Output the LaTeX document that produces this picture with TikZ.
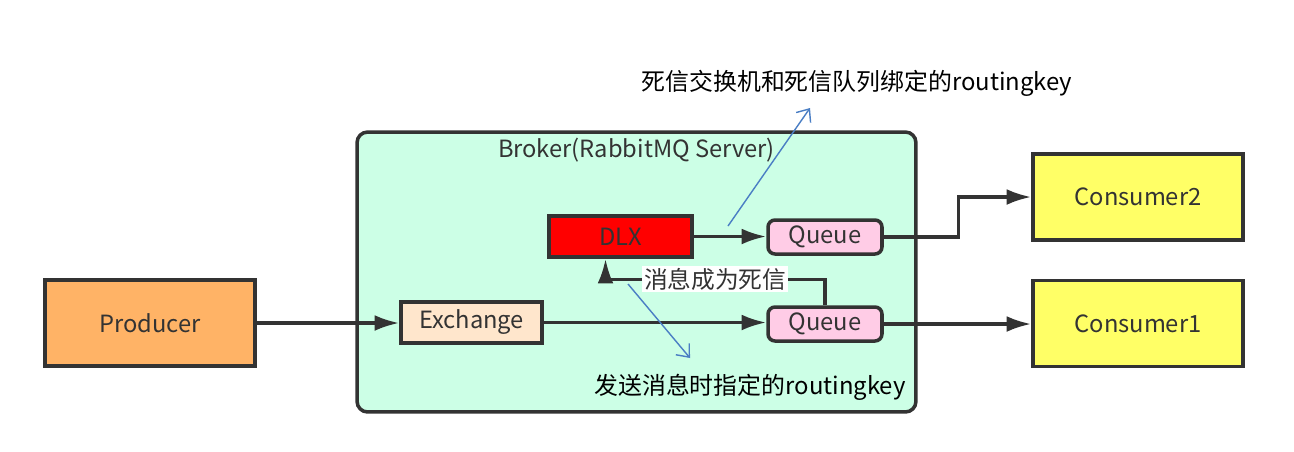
\documentclass[tikz,border=0pt]{standalone}
\usepackage{fontspec}
\setmainfont{Noto Sans CJK SC}
\usetikzlibrary{arrows.meta,positioning}
\definecolor{edge}{HTML}{333333}
\definecolor{brokerbg}{HTML}{CCFFE6}
\definecolor{prodbg}{HTML}{FFB366}
\definecolor{exchbg}{HTML}{FFE6CC}
\definecolor{queuebg}{HTML}{FFCCE6}
\definecolor{consbg}{HTML}{FFFF66}
\definecolor{keyblue}{HTML}{4A7EC4}
\begin{document}
\begin{tikzpicture}[x=0.02cm, y=-0.02cm,
    box/.style={draw=edge, line width=2pt, text=edge, font=\fontsize{13.5}{15}\selectfont, inner sep=0pt},
    bigbox/.style={box, minimum width=4.2cm, minimum height=1.72cm},
    qbox/.style={box, rounded corners=4pt, fill=queuebg, minimum width=2.28cm, minimum height=0.68cm},
    flow/.style={draw=edge, line width=1.9pt, -{Latex[length=14pt, width=9pt]}},
    keyline/.style={draw=keyblue, line width=0.8pt, -{Straight Barb[length=6pt, width=10pt]}},
    note/.style={font=\fontsize{13.6}{16}\selectfont, inner sep=0pt}]
  % canvas
  \useasboundingbox (0,0) rectangle (1294,451);
  % broker frame and its title
  \node[box, rounded corners=6pt, fill=brokerbg, minimum width=11.18cm, minimum height=5.6cm] (broker) at (636.5,272) {};
  \node[text=edge, font=\fontsize{13.5}{15}\selectfont, below=1pt of broker.north] (brokerlbl) {Broker(RabbitMQ Server)};
  % boxes
  \node[bigbox, fill=prodbg] (producer) at (150,323) {Producer};
  \node[box, fill=exchbg, minimum width=2.82cm, minimum height=0.82cm] (exchange) at (471.5,322.5) {Exchange};
  \node[box, fill=red, minimum width=2.86cm, minimum height=0.82cm] (dlx) at (620.5,236.5) {DLX};
  \node[qbox] (qtop) at (825,237) {Queue};
  \node[qbox] (qbot) at (825,324) {Queue};
  \node[bigbox, fill=consbg] (cons2) at (1138,197) {Consumer2};
  \node[bigbox, fill=consbg] (cons1) at (1138,323.5) {Consumer1};
  % message flow
  \draw[flow] (producer.east) -- (producer.east -| exchange.west);
  \draw[flow] (exchange.east) -- (exchange.east -| qbot.west);
  \draw[flow] (dlx.east) -- (dlx.east -| qtop.west);
  \draw[flow] (qtop.east) -- ++(75,0) |- (cons2.west);
  \draw[flow] (qbot.east) -- (qbot.east -| cons1.west);
  % dead letter back to DLX
  \draw[flow] (qbot.north) -- ++(0,-26) -| node[pos=0.25, fill=white, inner sep=1pt, text=edge, font=\fontsize{13.5}{15}\selectfont] (deadlbl) {消息成为死信} ([xshift=-0.3cm]dlx.south);
  % routing key notes
  \node[note] (dlxkey) at (857,83) {死信交换机和死信队列绑定的routingkey};
  \node[note] (sendkey) at (750,387) {发送消息时指定的routingkey};
  \coordinate (k1from) at (728,226);
  \coordinate (k1to) at (810,108);
  \coordinate (k2from) at (628,284);
  \coordinate (k2to) at (690,358);
  \draw[keyline] (k1from) -- (k1to);
  \draw[keyline] (k2from) -- (k2to);
\end{tikzpicture}
\end{document}
